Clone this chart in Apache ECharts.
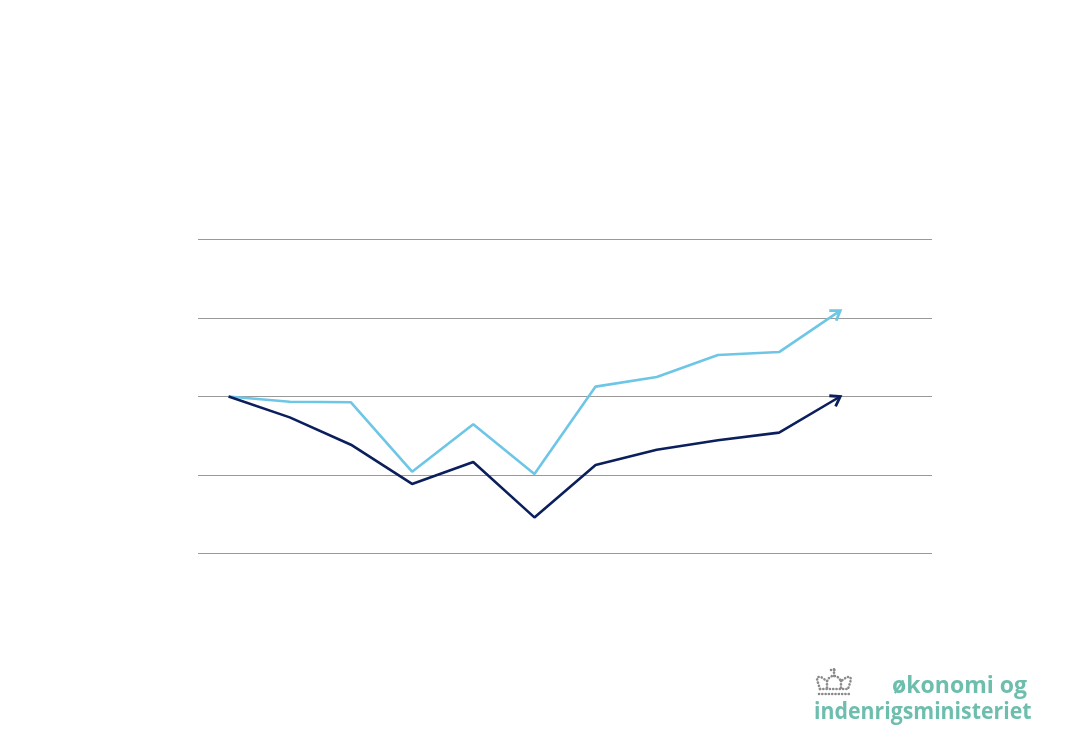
<!DOCTYPE html>
<html><head><meta charset="utf-8">
<script src="https://cdn.jsdelivr.net/npm/echarts@6/dist/echarts.min.js"></script>
<style>html,body{margin:0;padding:0;background:#fff}#c{width:1083px;height:750px}</style>
</head><body><div id="c"></div>
<script>
const categories = ['P1','P2','P3','P4','P5','P6','P7','P8','P9','P10','P11','P12'];
const lightValues = [100, 99.67, 99.63, 95.21, 98.23, 95.06, 100.63, 101.24, 102.64, 102.83, 105.47];
const darkValues  = [100, 98.67, 96.93, 94.43, 95.83, 92.30, 95.64, 96.61, 97.21, 97.70, 100.0];
const yTicks = [90, 95, 100, 105, 110];
const logoLine1 = 'økonomi og';
const logoLine2 = 'indenrigsministeriet';

const LIGHT = '#6EC6E6', DARK = '#0B1F5C', TEAL = '#6DBEAD';
const chart = echarts.init(document.getElementById('c'));

function crownGraphic(){
  const dot = {stroke:'#8a8a8a', lineWidth:2.6, lineDash:[0.1,3.2], lineCap:'round', fill:null};
  return {type:'group', x:815, y:667, children:[
    {type:'polyline', shape:{points:[[4,27],[34,27]]}, style:dot},
    {type:'polyline', shape:{points:[[5,22],[33,22]]}, style:dot},
    {type:'polyline', shape:{points:[[5,22],[3,16],[2,12],[3,10],[6,10],[9,12],[12,14],[14,11],[17,9],[21,9],[24,11],[26,14],[29,12],[32,10],[35,10],[36,12],[35,16],[33,22]]}, style:dot},
    {type:'polyline', shape:{points:[[19,9],[19,0]]}, style:dot},
    {type:'polyline', shape:{points:[[16,3],[22,3]]}, style:dot},
    {type:'polyline', shape:{points:[[12,14],[12,22]]}, style:dot},
    {type:'polyline', shape:{points:[[26,14],[26,22]]}, style:dot}
  ]};
}

chart.setOption({
  animation:false,
  backgroundColor:'#fff',
  grid:{left:198, right:151, top:239.5, bottom:196.5},
  xAxis:{type:'category', data:categories, boundaryGap:true,
    axisLine:{show:false}, axisTick:{show:false}, axisLabel:{show:false}, splitLine:{show:false}},
  yAxis:{type:'value', min:yTicks[0], max:yTicks[yTicks.length-1], interval:5,
    axisLine:{show:false}, axisTick:{show:false}, axisLabel:{show:false},
    splitLine:{show:true, lineStyle:{color:'#999', width:1}}},
  series:[
    {type:'line', name:'light', data:lightValues, showSymbol:false, symbol:'none',
     lineStyle:{color:LIGHT, width:2.6}, z:3},
    {type:'line', name:'dark', data:darkValues, showSymbol:false, symbol:'none',
     lineStyle:{color:DARK, width:2.6}, z:4}
  ]
});

function arrowHead(seriesIndex, vals, color){
  const n = vals.length;
  const p1 = chart.convertToPixel({seriesIndex}, [n-2, vals[n-2]]);
  const p2 = chart.convertToPixel({seriesIndex}, [n-1, vals[n-1]]);
  const a = Math.atan2(p2[1]-p1[1], p2[0]-p1[0]);
  const L = 11, spread = 0.6;
  const b1 = [p2[0]-L*Math.cos(a-spread), p2[1]-L*Math.sin(a-spread)];
  const b2 = [p2[0]-L*Math.cos(a+spread), p2[1]-L*Math.sin(a+spread)];
  return {type:'polyline', z:10, shape:{points:[b1,p2,b2]},
    style:{stroke:color, lineWidth:2.8, fill:null, lineJoin:'miter', lineCap:'butt'}};
}

chart.setOption({graphic:[
  arrowHead(0, lightValues, LIGHT),
  arrowHead(1, darkValues, DARK),
  crownGraphic(),
  {type:'text', right:56, top:675, style:{text:logoLine1, fill:TEAL, font:'bold 23px "Open Sans", sans-serif'}},
  {type:'text', x:814, y:701, scaleX:0.925, style:{text:logoLine2, fill:TEAL, font:'bold 23px "Open Sans", sans-serif'}}
]});
</script></body></html>
